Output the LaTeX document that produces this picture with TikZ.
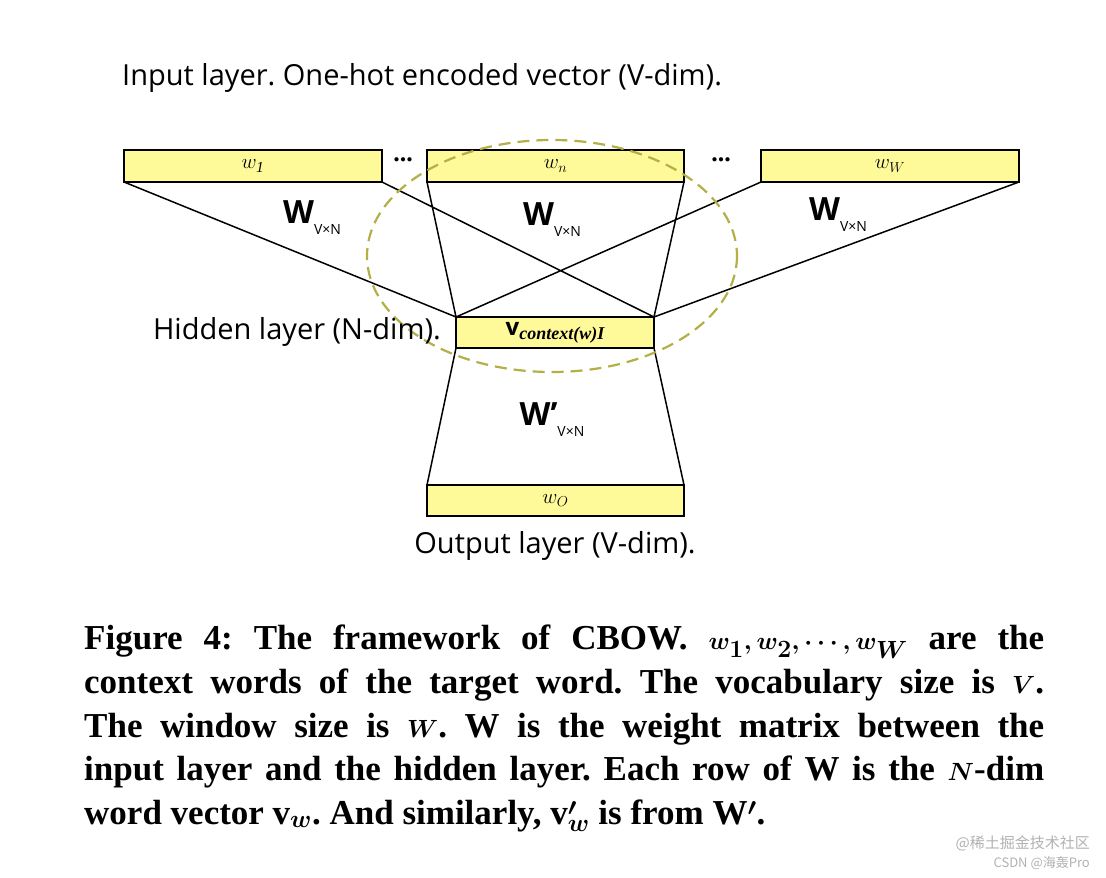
\documentclass[tikz,border=0pt]{standalone}
\usepackage{fontspec}
\setmainfont{Liberation Serif}
\newfontfamily\dsans{Open Sans}
\newfontfamily\csans{Noto Sans CJK SC}
\frenchspacing
\begin{document}
\begin{tikzpicture}[x=1pt,y=-1pt,
  box/.style={draw,line width=1.8pt,fill=yellow!40},
  edge/.style={line width=1.5pt},
  lbl/.style={font=\dsans\fontsize{29}{32}\selectfont,inner sep=0},
  wl/.style={font=\dsans\bfseries\fontsize{32}{34}\selectfont,inner sep=0},
  bl/.style={font=\fontsize{22}{24}\selectfont}]
\useasboundingbox (0,0) rectangle (1106,878);
\fill[white] (0,0) rectangle (1106,878);
\draw[box] (124,150) rectangle (382,182) node[pos=.5,bl] (w1) {$w_{\mathit{1}}$};
\draw[box] (427,150) rectangle (684,182) node[pos=.5,bl] (wn) {$w_n$};
\draw[box] (761,150) rectangle (1019,182) node[pos=.5,bl] (wW) {$w_W$};
\draw[box] (456,317) rectangle (654,348) node[pos=.5,bl] (h) {{\dsans\bfseries\fontsize{24}{24}\selectfont v}\raisebox{-4pt}{\fontsize{18}{18}\selectfont\bfseries\itshape context(w)I}};
\draw[box] (427,485) rectangle (684,516) node[pos=.5,bl] (o) {$w_O$};
\coordinate (a1) at (124,182); \coordinate (a2) at (382,182);
\coordinate (b1) at (427,182); \coordinate (b2) at (684,182);
\coordinate (c1) at (761,182); \coordinate (c2) at (1019,182);
\coordinate (ht1) at (456,317); \coordinate (ht2) at (654,317);
\coordinate (hb1) at (456,348); \coordinate (hb2) at (654,348);
\coordinate (o1) at (427,485); \coordinate (o2) at (684,485);
\draw[edge] (a1)--(ht1) (a2)--(ht2) (b1)--(ht1) (b2)--(ht2) (c1)--(ht1) (c2)--(ht2)
  (hb1)--(o1) (hb2)--(o2);
\draw[dash pattern=on 12pt off 7pt,line width=2.2pt,color={rgb,255:red,180;green,175;blue,70}] (552,256) ellipse [x radius=185,y radius=116];
\node[font=\bfseries\fontsize{26}{26}\selectfont,inner sep=0] (d1) at (403,160) {\textbf{...}};
\node[font=\bfseries\fontsize{26}{26}\selectfont,inner sep=0] (d2) at (721,160) {\textbf{...}};
\node[wl] (W1) at (312,218) {W\raisebox{-11pt}{\fontsize{14}{14}\mdseries V×N}};
\node[wl] (W2) at (552,220) {W\raisebox{-11pt}{\fontsize{14}{14}\mdseries V×N}};
\node[wl] (W3) at (838,215) {W\raisebox{-11pt}{\fontsize{14}{14}\mdseries V×N}};
\node[wl] (W4) at (552,420) {W’\raisebox{-11pt}{\fontsize{14}{14}\mdseries V×N}};
\node[lbl,anchor=west] (t1) at (122,78) {Input layer. One-hot encoded vector (V-dim).};
\node[lbl,anchor=east] (t2) at (441,332) {Hidden layer (N-dim).};
\node[lbl] (t3) at (555,546) {Output layer (V-dim).};
\node[anchor=north west,inner sep=0,text width=960pt,align=justify,font=\bfseries\boldmath\fontsize{35}{43.6}\selectfont] (cap) at (84,625) {Figure 4: The framework of CBOW. $w_1, w_2, \cdots, w_W$ are the\linebreak context words of the target word. The vocabulary size is $V$.\linebreak The window size is $W$. W is the weight matrix between the\linebreak input layer and the hidden layer. Each row of W is the $N$-dim\linebreak word vector v$_w$. And similarly, v$'_w$ is from W$'$.};
\node[anchor=east,inner sep=0,font=\csans\fontsize{15}{16}\selectfont,text=gray!60] (wm1) at (1090,843) {@稀土掘金技术社区};
\node[anchor=east,inner sep=0,font=\csans\fontsize{13}{14}\selectfont,text=gray!60] (wm2) at (1090,863) {CSDN @海轰Pro};
\end{tikzpicture}
\end{document}
